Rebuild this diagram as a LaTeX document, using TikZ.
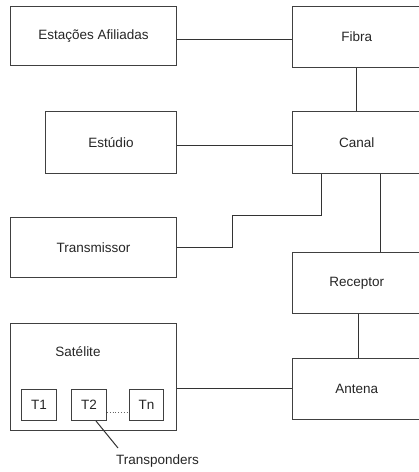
\documentclass[tikz,border=0pt]{standalone}
\usepackage{fontspec}
\setmainfont{Liberation Sans}
\begin{document}
\begin{tikzpicture}[x=1pt,y=-1pt,
  box/.style={draw=black!75,line width=1pt,anchor=north west,inner sep=0pt,
    font=\fontsize{13.5}{16}\selectfont,text=black!85},
  lbl/.style={inner sep=0pt,font=\fontsize{13.5}{16}\selectfont,text=black!85},
  wire/.style={draw=black!80,line width=1pt}]
\clip (0,0) rectangle (419,472);
\fill[white] (0,0) rectangle (419,472);
% left column
\node[box,minimum width=166,minimum height=59] (est) at (10,6) {Estações Afiliadas};
\node[box,minimum width=131,minimum height=62] (estu) at (45,111) {Estúdio};
\node[box,minimum width=166,minimum height=60] (trans) at (10,217) {Transmissor};
\node[box,minimum width=166,minimum height=107] (sat) at (10,323) {};
\node[lbl] (satl) at (78,352) {Satélite};
\node[box,minimum width=35,minimum height=31] (t1) at (21,389) {T1};
\node[box,minimum width=35,minimum height=31] (t2) at (71,389) {T2};
\node[box,minimum width=34,minimum height=31] (tn) at (129,389) {Tn};
\node[lbl,anchor=north west] (tp) at (116,455) {Transponders};
% right column
\node[box,minimum width=128.5,minimum height=61] (fib) at (292,6) {Fibra};
\node[box,minimum width=128.5,minimum height=62] (can) at (292,111) {Canal};
\node[box,minimum width=128.5,minimum height=61] (rec) at (292,252) {Receptor};
\node[box,minimum width=128.5,minimum height=61] (ant) at (292,358) {Antena};
% connectors
\draw[wire] (est.east |- 0,39) -- (fib.west |- 0,39);
\draw[wire] ([xshift=64pt]fib.south west) -- ([xshift=64pt]can.north west);
\draw[wire] (estu.east |- 0,145) -- (can.west |- 0,145);
\draw[wire] ([xshift=29pt]can.south west) |- (232,215) |- (trans.east);
\draw[wire] ([xshift=88pt]can.south west) -- ([xshift=88pt]rec.north west);
\draw[wire] ([xshift=66pt]rec.south west) -- ([xshift=66pt]ant.north west);
\draw[wire] (sat.east |- 0,388) -- (ant.west |- 0,388);
\draw[draw=black!60,line width=0.8pt,dotted] ([yshift=-7.5pt]t2.east) -- ([yshift=-7.5pt]tn.west);
\draw[wire] ([xshift=25pt]t2.south west) -- ([xshift=2pt,yshift=7pt]tp.north west);
\end{tikzpicture}
\end{document}
